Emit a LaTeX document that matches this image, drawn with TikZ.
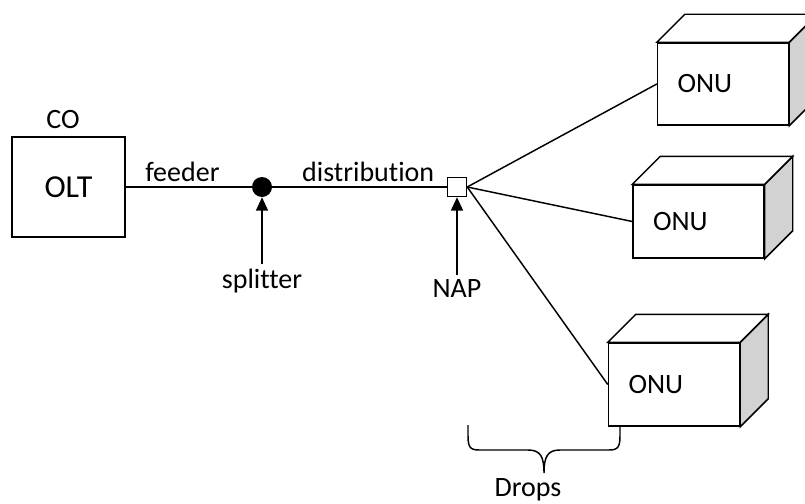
\documentclass[tikz,border=0pt]{standalone}
\usepackage{fontspec}
\setmainfont{Carlito}[Ligatures=NoCommon]
\usetikzlibrary{arrows.meta,calc}
\definecolor{sidegray}{RGB}{210,210,210}

\tikzset{
  olt/.style={draw,line width=1.1pt,rectangle,minimum width=84.75pt,minimum height=75pt,inner sep=0pt,font=\fontsize{24pt}{28pt}\selectfont},
  onu/.style={draw,line width=1.1pt,fill=white,rectangle,minimum width=98.25pt,text width=68.25pt,inner xsep=15pt,inner ysep=0pt,align=left},
  fibre/.style={line width=1.1pt},
  pointer/.style={line width=1.1pt,-{Triangle[length=10pt,width=9pt]}},
}

\begin{document}
\begin{tikzpicture}[x=0.75pt,y=0.75pt,yscale=-1,font=\fontsize{21pt}{25pt}\selectfont]
\clip (0,0) rectangle (805,503);

% central office
\node (co) at (63,120) {CO};
\node [olt] (olt) at (68.5,187) {OLT};

% splitter and access point
\node [circle,fill=black,minimum size=15pt,inner sep=0pt] (splitter) at (262,187) {};
\node [draw,line width=1.1pt,fill=white,minimum size=14.25pt,inner sep=0pt] (nap) at (457,187) {};
\node (splitlbl) at (262,281) {splitter};
\node (naplbl) at (457,289) {NAP};

% subscriber units
\node [onu,minimum height=61.5pt] (onuA) at (723,84) {ONU};
\node [onu,minimum height=54.75pt] (onuB) at (698.5,221.5) {ONU};
\node [onu,minimum height=62.25pt] (onuC) at (674,384.5) {ONU};
\foreach \u in {onuA,onuB,onuC}{
  \draw [fibre,fill=sidegray] (\u.north east) -- ++(28,-28) -- ($(\u.south east)+(28,-28)$) -- (\u.south east) -- cycle;
  \draw [fibre,fill=white] (\u.north west) -- ++(28,-28) -- ($(\u.north east)+(28,-28)$) -- (\u.north east) -- cycle;
}

% fibre runs
\draw [fibre] (olt.east) -- node [above,pos=0.45] (feeder) {feeder} (splitter);
\draw [fibre] (splitter) -- node [above,pos=0.55] (dist) {distribution} (nap.west);
\foreach \u in {onuA,onuB,onuC}
  \draw [fibre] (nap.east) -- (\u.west);

% pointers
\draw [pointer] (splitlbl.north) -- (splitter.south);
\draw [pointer] (naplbl.north) -- (nap.south);

% drops brace
\coordinate (dropL) at (468,425);
\coordinate (dropR) at (620,425);
\coordinate (dropTip) at (544,473);
\draw [fibre] (dropL) -- (468,436) .. controls (468,450) and (472,450) .. (482,450) -- (528,450) .. controls (540,450) and (544,456) .. (dropTip) .. controls (544,456) and (548,450) .. (560,450) -- (606,450) .. controls (616,450) and (620,450) .. (620,436) -- (dropR);
\node (drops) at (528,490) {Drops};

\end{tikzpicture}
\end{document}
